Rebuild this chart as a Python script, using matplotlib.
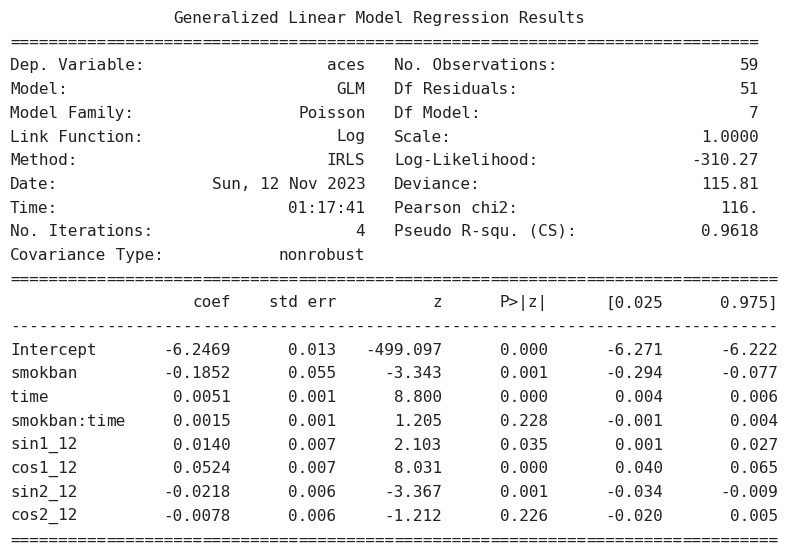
import re
import matplotlib
matplotlib.use("Agg")
from matplotlib import pyplot as plt

# top block of the summary
title = "Generalized Linear Model Regression Results"
left_labels = ["Dep. Variable:", "Model:", "Model Family:", "Link Function:", "Method:",
               "Date:", "Time:", "No. Iterations:", "Covariance Type:"]
left_values = ["aces", "GLM", "Poisson", "Log", "IRLS",
               "Sun, 12 Nov 2023", "01:17:41", "4", "nonrobust"]
right_labels = ["No. Observations:", "Df Residuals:", "Df Model:", "Scale:", "Log-Likelihood:",
                "Deviance:", "Pearson chi2:", "Pseudo R-squ. (CS):", ""]
right_values = ["59", "51", "7", "1.0000", "-310.27", "115.81", "116.", "0.9618", ""]

# coefficient table
names = ["Intercept", "smokban", "time", "smokban:time", "sin1_12", "cos1_12", "sin2_12", "cos2_12"]
coef = [-6.2469, -0.1852, 0.0051, 0.0015, 0.0140, 0.0524, -0.0218, -0.0078]
std_err = [0.013, 0.055, 0.001, 0.001, 0.007, 0.007, 0.006, 0.006]
zval = [-499.097, -3.343, 8.800, 1.205, 2.103, 8.031, -3.367, -1.212]
pval = [0.000, 0.001, 0.000, 0.228, 0.035, 0.000, 0.001, 0.226]
ci_low = [-6.271, -0.294, 0.004, -0.001, 0.001, 0.040, -0.034, -0.020]
ci_high = [-6.222, -0.077, 0.006, 0.004, 0.027, 0.065, -0.009, 0.005]
col_heads = ["coef", "std err", "z", "P>|z|", "[0.025", "0.975]"]

W1 = 78  # width of the top block
lines = []
lines.append(" " * ((W1 - len(title)) // 2) + title)
lines.append("=" * W1)
for ll, lv, rl, rv in zip(left_labels, left_values, right_labels, right_values):
    left = ll + lv.rjust(37 - len(ll))
    right = (rl + rv.rjust(38 - len(rl))) if rl else ""
    lines.append(left + "   " + right)

widths = [11, 11, 11, 11, 12, 12]
W2 = 12 + sum(widths)
lines.append("=" * W2)
lines.append(" " * 12 + "".join(h.rjust(w) for h, w in zip(col_heads, widths)))
lines.append("-" * W2)
for i in range(len(names)):
    vals = ["%.4f" % coef[i], "%.3f" % std_err[i], "%.3f" % zval[i],
            "%.3f" % pval[i], "%.3f" % ci_low[i], "%.3f" % ci_high[i]]
    lines.append(names[i].ljust(12) + "".join(v.rjust(w) for v, w in zip(vals, widths)))
lines.append("=" * W2)

fig = plt.figure(figsize=(7.87, 5.54), dpi=100)
ax = fig.add_axes([0, 0, 1, 1])
ax.set_xlim(0, 787)
ax.set_ylim(554, 0)
ax.axis("off")

# fixed 9.6 px character grid; each word is put on the grid on its own so
# font hinting can't drift the columns
cw = 9.6
for i, s in enumerate(lines):
    y = 18.5 + i * 23.7
    for m in re.finditer(r"\S+(?: \S+)*", s):
        word, start = m.group(), m.start()
        for k in range(0, len(word), 10):
            ax.text(10 + (start + k) * cw, y, word[k:k + 10], family="DejaVu Sans Mono",
                    fontsize=11.5, color="#222222", va="center", ha="left")

fig.savefig("out.png", dpi=100, facecolor="white")
